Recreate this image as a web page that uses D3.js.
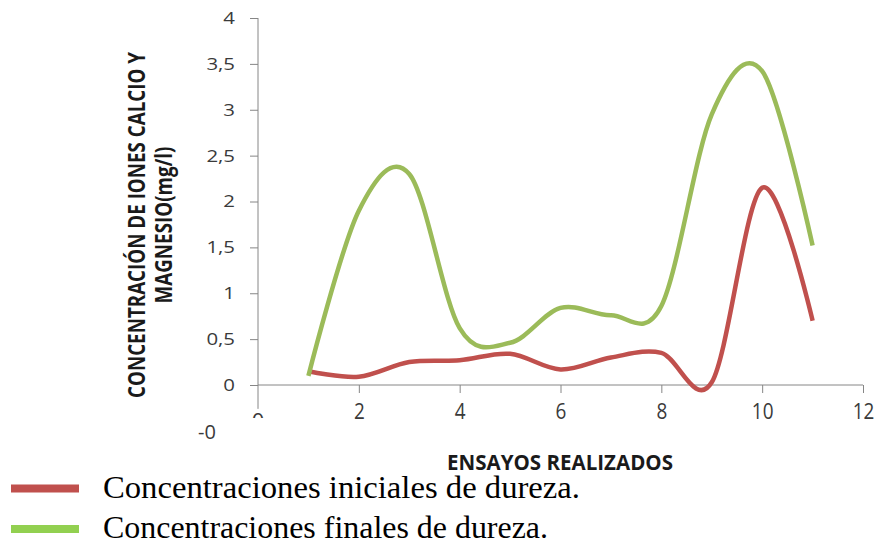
<!DOCTYPE html>
<html>
<head>
<meta charset="utf-8">
<script src="https://cdn.jsdelivr.net/npm/d3@7"></script>
<style>
  html, body { margin: 0; padding: 0; background: #fff; }
  svg { display: block; }
</style>
</head>
<body>
<svg id="chart" width="880" height="541"></svg>
<script>
// Trials (x) and hardness concentrations (mg/l)
const ensayos = [1, 2, 3, 4, 5, 6, 7, 8, 9, 10, 11];
const iniciales = [0.15, 0.09, 0.25, 0.27, 0.34, 0.17, 0.30, 0.35, 0.03, 2.15, 0.70];
const finales   = [0.10, 1.90, 2.30, 0.62, 0.46, 0.84, 0.76, 0.86, 2.95, 3.42, 1.52];

const xTicks = [2, 4, 6, 8, 10, 12];
const yTicks = [0, 0.5, 1, 1.5, 2, 2.5, 3, 3.5, 4];

const yTitle = ["CONCENTRACIÓN DE IONES CALCIO Y", "MAGNESIO(mg/l)"];
const xTitle = "ENSAYOS REALIZADOS";
const seriesNames = ["Concentraciones iniciales de dureza.", "Concentraciones finales de dureza."];
const lineColors = ["#C0504D", "#9BBB59"];
const legendColors = ["#C0504D", "#92D050"];

const svg = d3.select("#chart");
const x = d3.scaleLinear().domain([0, 12]).range([258, 863]);
const y = d3.scaleLinear().domain([0, 4]).range([385, 18]);

const axisColor = "#868686";
const labelColor = "#3a3a3a";
const sansFont = "'Open Sans', 'DejaVu Sans', sans-serif";

// stretch/compress a text node horizontally by a factor
function scaleText(sel, f) {
  sel.each(function () {
    const w = this.getComputedTextLength();
    d3.select(this).attr("textLength", w * f).attr("lengthAdjust", "spacingAndGlyphs");
  });
}
function fitText(sel, w) {
  sel.attr("textLength", w).attr("lengthAdjust", "spacingAndGlyphs");
}

// Y axis
const yAxis = svg.append("g").attr("transform", `translate(${x(0)},0)`)
  .call(d3.axisLeft(y).tickValues(yTicks).tickSize(8).tickPadding(15)
    .tickFormat(d => d3.format("~g")(d).replace(".", ",")));
yAxis.select(".domain").remove();
yAxis.selectAll(".tick line").attr("stroke", axisColor);
yAxis.selectAll(".tick text")
  .attr("font-family", sansFont).attr("font-size", 17).attr("fill", labelColor)
  .call(scaleText, 1.2);
svg.append("line")
  .attr("x1", x(0)).attr("x2", x(0))
  .attr("y1", y(4)).attr("y2", y(-0.26))
  .attr("stroke", axisColor).attr("stroke-width", 1);

// X axis crossing at zero
const xAxis = svg.append("g").attr("transform", `translate(0,${y(0)})`)
  .call(d3.axisBottom(x).tickValues(xTicks).tickSize(8).tickPadding(24)
    .tickFormat(d3.format("d")));
xAxis.select(".domain").remove();
xAxis.selectAll(".tick line").attr("stroke", axisColor);
xAxis.selectAll(".tick text")
  .attr("font-family", sansFont).attr("font-size", 22).attr("fill", labelColor)
  .attr("dy", "0.1em")
  .call(scaleText, 0.86);
svg.append("line")
  .attr("x1", x(0)).attr("x2", x(12))
  .attr("y1", y(0)).attr("y2", y(0))
  .attr("stroke", axisColor).attr("stroke-width", 1);

// partly hidden labels near the origin
svg.append("clipPath").attr("id", "zeroClip")
  .append("rect").attr("x", x(0) - 20).attr("y", 400).attr("width", 40).attr("height", 18);
svg.append("text")
  .attr("clip-path", "url(#zeroClip)")
  .attr("x", x(0)).attr("y", 429).attr("text-anchor", "middle")
  .attr("font-family", sansFont).attr("font-size", 22).attr("fill", labelColor)
  .text("0");
svg.append("text")
  .attr("x", 198).attr("y", 439)
  .attr("font-family", sansFont).attr("font-size", 20).attr("fill", labelColor)
  .text("-0");

// Series lines
const line = d3.line()
  .x((d, i) => x(ensayos[i]))
  .y(d => y(d))
  .curve(d3.curveCatmullRom.alpha(0));

[iniciales, finales].forEach((vals, k) => {
  svg.append("path")
    .datum(vals)
    .attr("d", line)
    .attr("fill", "none")
    .attr("stroke", lineColors[k])
    .attr("stroke-width", 4.5)
    .attr("stroke-linejoin", "round");
});

// Axis titles
svg.append("text")
  .attr("x", 447).attr("y", 470)
  .attr("font-family", sansFont).attr("font-weight", "bold").attr("font-size", 21)
  .attr("fill", "#1a1a1a")
  .text(xTitle)
  .call(fitText, 226);

const yt = svg.append("g").attr("transform", "translate(145,225) rotate(-90)");
const t1 = yt.append("text").attr("x", 0).attr("y", 0).attr("text-anchor", "middle")
  .attr("font-family", sansFont).attr("font-weight", "bold").attr("font-size", 23)
  .attr("fill", "#1a1a1a").text(yTitle[0]);
const t2 = yt.append("text").attr("x", 0).attr("y", 27).attr("text-anchor", "middle")
  .attr("font-family", sansFont).attr("font-weight", "bold").attr("font-size", 23)
  .attr("fill", "#1a1a1a").text(yTitle[1]);
const f = 346 / t1.node().getComputedTextLength();
scaleText(t1, f);
scaleText(t2, f);

// Legend
const legendY = [488.5, 529];
const legendBase = [498, 538];
const legendW = [477, 445];
seriesNames.forEach((name, k) => {
  svg.append("rect")
    .attr("x", 11).attr("y", legendY[k] - 4)
    .attr("width", 68).attr("height", 8)
    .attr("fill", legendColors[k]);
  svg.append("text")
    .attr("x", 103).attr("y", legendBase[k])
    .attr("font-family", "'Liberation Serif', 'Times New Roman', serif")
    .attr("font-size", 31).attr("fill", "#000")
    .text(name)
    .call(fitText, legendW[k]);
});
</script>
</body>
</html>
